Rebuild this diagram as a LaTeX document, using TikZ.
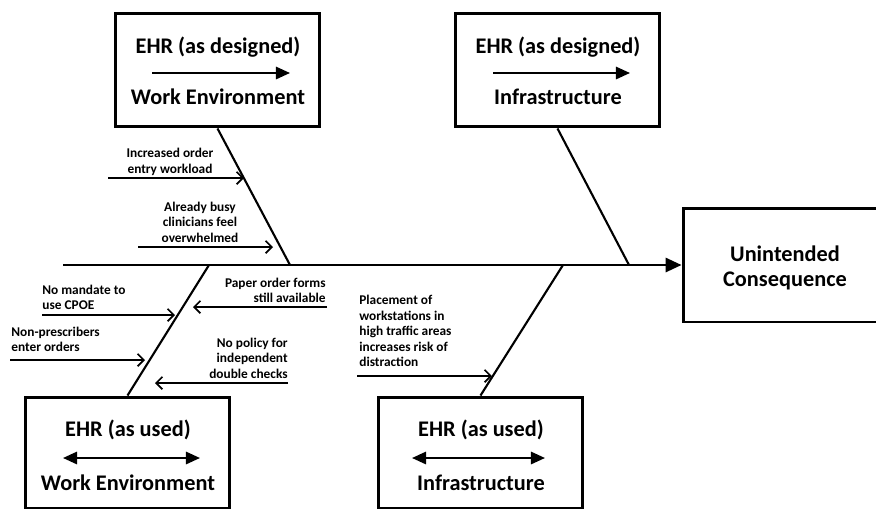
\documentclass[tikz,border=0pt]{standalone}
\usepackage{fontspec}
\setmainfont{Carlito}
\usetikzlibrary{arrows.meta}
\tikzset{
  bigbox/.style={draw,line width=1.7pt,minimum width=4.1cm,minimum height=2.28cm,inner sep=0pt},
  boxtext/.style={font=\fontsize{12.7}{14.7}\selectfont\bfseries,inner sep=0pt},
  causetext/.style={font=\fontsize{7.6}{8.8}\selectfont\bfseries,inner sep=0pt},
  bone/.style={line width=1.2pt},
  spine/.style={line width=1.4pt,-{Triangle[length=9pt,width=8pt]}},
  cause/.style={line width=1pt,-{Straight Barb[length=3.5pt,width=7pt]}},
  flow/.style={line width=1.2pt,-{Triangle[length=8pt,width=7pt]}},
  twoway/.style={line width=1.2pt,{Triangle[length=8pt,width=7pt]}-{Triangle[length=8pt,width=7pt]}}
}
\begin{document}
\begin{tikzpicture}[x=0.02cm,y=-0.02cm]
  \useasboundingbox (0,0) rectangle (876,511);

  \node[bigbox] (dsgnwork) at (217.5,70) {};
  \node[bigbox] (dsgninfra) at (557.5,70) {};
  \node[bigbox,minimum height=2.22cm] (usedwork) at (127.5,452.5) {};
  \node[bigbox,minimum height=2.22cm] (usedinfra) at (480.5,452.5) {};
  \node[bigbox,minimum width=4.06cm] (conseq) at (784.5,265) {};

  \node[boxtext] (dwtop) at (218,47) {EHR (as designed)};
  \node[boxtext] (dwbot) at (218,97) {Work Environment};
  \node[boxtext] (ditop) at (558,47) {EHR (as designed)};
  \node[boxtext] (dibot) at (558,97) {Infrastructure};
  \node[boxtext] (uwtop) at (128,430) {EHR (as used)};
  \node[boxtext] (uwbot) at (128,483) {Work Environment};
  \node[boxtext] (uitop) at (481,430) {EHR (as used)};
  \node[boxtext] (uibot) at (481,483) {Infrastructure};
  \node[boxtext,align=center] (cqtext) at (785,268) {Unintended\\Consequence};

  \coordinate (dwl) at (152,73);  \coordinate (dwr) at (290,73);
  \coordinate (dil) at (493,73);  \coordinate (dir) at (630,73);
  \coordinate (uwl) at (63,458);  \coordinate (uwr) at (200,458);
  \coordinate (uil) at (412,458); \coordinate (uir) at (545,458);
  \draw[flow] (dwl) -- (dwr);
  \draw[flow] (dil) -- (dir);
  \draw[twoway] (uwl) -- (uwr);
  \draw[twoway] (uil) -- (uir);

  \coordinate (tail) at (63,265);
  \coordinate (b1) at (290,265);
  \coordinate (b2) at (629,265);
  \coordinate (b3) at (209,265);
  \coordinate (b4) at (563,265);
  \draw[spine] (tail) -- (conseq.west);
  \draw[bone] (dsgnwork.south) -- (b1);
  \draw[bone] (dsgninfra.south) -- (b2);
  \draw[bone] (usedwork.north) -- (b3);
  \draw[bone] (usedinfra.north) -- (b4);

  \node[causetext,align=center] (workload) at (170,162) {Increased order\\entry workload};
  \node[causetext,align=center] (overwhelm) at (200,222) {Already busy\\clinicians feel\\overwhelmed};
  \node[causetext,align=left,anchor=west] (mandate) at (42,297.5) {No mandate to\\use CPOE};
  \node[causetext,align=left,anchor=west] (nonpresc) at (11,339.5) {Non-prescribers\\enter orders};
  \node[causetext,align=right,anchor=east] (paper) at (326,290.5) {Paper order forms\\still available};
  \node[causetext,align=right,anchor=east] (policy) at (288,358) {No policy for\\independent\\double checks};
  \node[causetext,align=left,anchor=west] (placement) at (359,331) {Placement of\\workstations in\\high traffic areas\\increases risk of\\distraction};

  \coordinate (c1s) at (108,178); \coordinate (c1e) at (244,178);
  \coordinate (c2s) at (138,247); \coordinate (c2e) at (273,247);
  \coordinate (c3s) at (42,315);  \coordinate (c3e) at (175,315);
  \coordinate (c4s) at (10,360);  \coordinate (c4e) at (145,360);
  \coordinate (c5s) at (327,307); \coordinate (c5e) at (193,307);
  \coordinate (c6s) at (288,383); \coordinate (c6e) at (155,383);
  \coordinate (c7s) at (357,376); \coordinate (c7e) at (492,376);
  \draw[cause] (c1s) -- (c1e);
  \draw[cause] (c2s) -- (c2e);
  \draw[cause] (c3s) -- (c3e);
  \draw[cause] (c4s) -- (c4e);
  \draw[cause] (c5s) -- (c5e);
  \draw[cause] (c6s) -- (c6e);
  \draw[cause] (c7s) -- (c7e);
\end{tikzpicture}
\end{document}
